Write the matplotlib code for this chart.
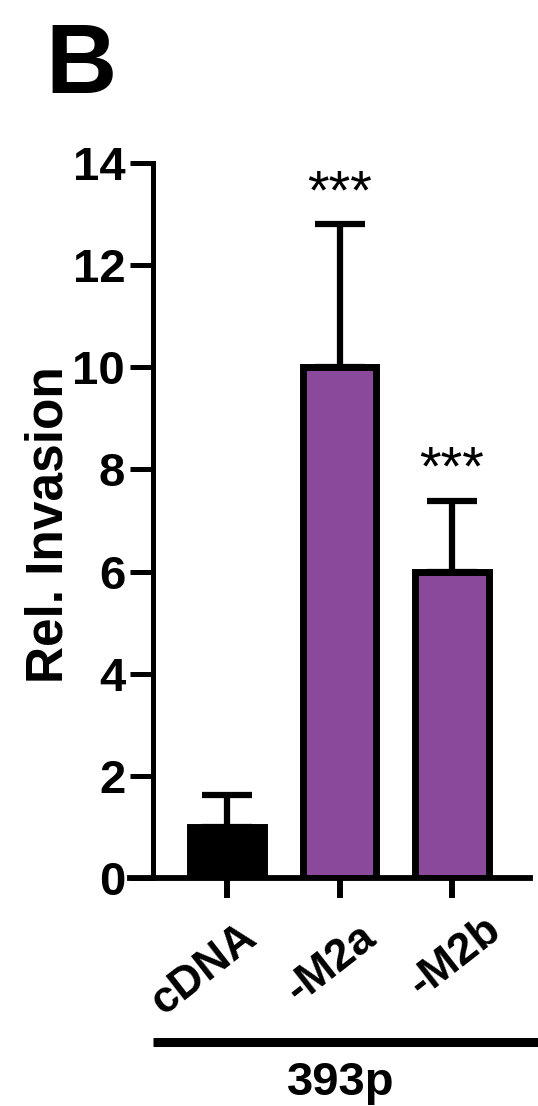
import numpy as np
import matplotlib; matplotlib.use("Agg")
import matplotlib.pyplot as plt

plt.rcParams['font.family'] = ['Liberation Sans', 'DejaVu Sans']

# ---------- data ----------
groups = ["cDNA", "-M2a", "-M2b"]
means = [1.0, 10.0, 6.0]
sem_up = [0.62, 2.8, 1.38]
stars = ["", "***", "***"]
colors = ["#000000", "#8B499C", "#8B499C"]
cell_line = "393p"
yticks = [0, 2, 4, 6, 8, 10, 12, 14]

# label anchor offsets (x, y in data units)
lab_dx = [0.28, 0.34, 0.45]
lab_dy = [-1.25, -1.25, -1.1]

W, H = 538, 1106
fig = plt.figure(figsize=(W/100, H/100), dpi=100)
ax = fig.add_axes([130/W, (H-878)/H, 400/W, 715/H])

x = np.arange(len(groups))
ax.errorbar(x, means, yerr=[np.zeros(len(x)), sem_up], fmt='none', ecolor='black',
            elinewidth=4.5, capsize=18, capthick=4.5, zorder=1, clip_on=False)
ax.bar(x, means, width=0.65, color=colors, edgecolor='black', linewidth=5, zorder=2)

for xi, m, e, s in zip(x, means, sem_up, stars):
    if s:
        ax.text(xi, m + e + 0.32, s, ha='center', va='baseline', fontsize=40, clip_on=False)

ax.set_xlim(-0.862, 2.693)
ax.set_ylim(0, 14)

for side in ("top", "right"):
    ax.spines[side].set_visible(False)
ax.spines['left'].set_position(('axes', 23/400))
ax.spines['left'].set_bounds(0, 14)
ax.spines['left'].set_linewidth(3.6)
ax.spines['bottom'].set_linewidth(4.2)
ax.spines['left'].set_capstyle('projecting')

ax.set_yticks(yticks)
ax.set_yticklabels([str(t) for t in yticks], fontsize=34, fontweight='bold')
ax.tick_params(axis='y', direction='out', length=16.5, width=3.6, pad=3.5)
ax.set_xticks(x)
ax.set_xticklabels([])
ax.tick_params(axis='x', direction='out', length=14.5, width=4.3)

for xi, g, dx, dy in zip(x, groups, lab_dx, lab_dy):
    ax.text(xi + dx, dy, g, rotation=38, rotation_mode='anchor', ha='right', va='baseline',
            fontsize=32, fontweight='bold', clip_on=False)

# group bar under the labels
ax.plot([-0.658, 2.9], [-3.21, -3.21], color='black', lw=6.5, clip_on=False,
        solid_capstyle='butt')
ax.text(1.01, -4.25, cell_line, ha='center', va='baseline', fontsize=34,
        fontweight='bold', clip_on=False)

fig.text(49/W, 1 - 525/H, "Rel. Invasion", rotation=90, ha='center', va='center',
         fontsize=37, fontweight='bold')
fig.text(45/W, 1 - 22/H, "B", ha='left', va='top', fontsize=71, fontweight='bold')

fig.savefig("out.png", dpi=100)
